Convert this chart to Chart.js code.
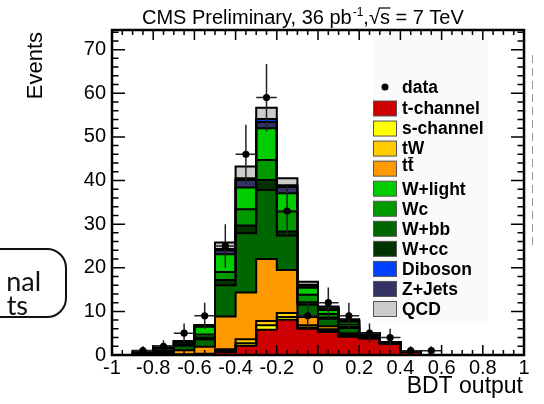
<!DOCTYPE html>
<html>
<head>
<meta charset="utf-8">
<script src="https://cdn.jsdelivr.net/npm/chart.js@4.4.1/dist/chart.umd.min.js"></script>
<style>
  html, body { margin: 0; padding: 0; background: #fff; }
  #wrap { position: relative; width: 544px; height: 404px; overflow: hidden; }
  #myChart { position: absolute; left: 0; top: 0; }
  .slidebox { position: absolute; left: -70px; top: 248px; width: 133px; height: 66px;
              border: 2.5px solid #111; border-radius: 20px; }
  .slidetxt { position: absolute; font-family: Lato, "Open Sans", sans-serif; font-size: 27px;
              color: #111; white-space: nowrap; line-height: 1; }
  .dash { position: absolute; left: 532px; top: 55px; width: 1px; height: 190px;
          background: repeating-linear-gradient(to bottom, #999 0 8px, transparent 8px 13px); }
</style>
</head>
<body>
<div id="wrap">
  <canvas id="myChart" width="544" height="404"></canvas>
  <div class="slidebox"></div>
  <div class="slidetxt" style="right:503px; top:267px;">nal</div>
  <div class="slidetxt" style="right:516px; top:291px;">ts</div>
  <div class="dash"></div>
</div>
<script>
// bin centres of the BDT output histogram (bin width 0.1)
const binCenters = [-0.95, -0.85, -0.75, -0.65, -0.55, -0.45, -0.35, -0.25, -0.15, -0.05,
                    0.05, 0.15, 0.25, 0.35, 0.45, 0.55, 0.65, 0.75, 0.85, 0.95];
const binWidth = 0.1;

// stacked MC samples (events per bin)
const tChannel = [0, 0, 0, 0, 0, 0.7, 2.1, 5.8, 8.1, 6.0, 5.3, 4.2, 3.8, 2.6, 0.8, 0, 0, 0, 0, 0];
const sChannel = [0, 0, 0, 0, 0, 0.2, 0.6, 1.0, 0.6, 0.3, 0.2, 0.1, 0.05, 0.05, 0, 0, 0, 0, 0, 0];
const tW       = [0, 0, 0, 0.2, 0.3, 0.4, 0.9, 1.0, 0.9, 0.5, 0.4, 0.3, 0.1, 0.05, 0, 0, 0, 0, 0, 0];
const ttbar    = [0, 0, 0.3, 0.9, 1.6, 7.5, 10.7, 14.2, 9.9, 1.9, 0.7, 0.4, 0.25, 0.1, 0, 0, 0, 0, 0, 0];
const wbb      = [0, 0.2, 0.4, 1.0, 1.7, 7.2, 13.6, 15.8, 7.9, 2.8, 1.7, 1.2, 0.4, 0.1, 0, 0, 0, 0, 0, 0];
const wcc      = [0, 0, 0.1, 0.3, 0.4, 1.2, 1.8, 2.3, 0.9, 0.6, 0.3, 0.2, 0.1, 0, 0, 0, 0, 0, 0, 0];
const wc       = [0, 0, 0.3, 0.4, 0.7, 1.8, 3.7, 4.6, 4.6, 1.7, 0.8, 0.6, 0.1, 0, 0, 0, 0, 0, 0, 0];
const wLight   = [0, 0.3, 0.5, 0.3, 1.8, 4.1, 5.0, 7.3, 4.2, 1.6, 0.9, 0.6, 0.15, 0.05, 0, 0, 0, 0, 0, 0];
const zJets    = [0, 0, 0, 0, 0.2, 0.9, 1.7, 1.4, 1.4, 0.5, 0.3, 0.2, 0.03, 0, 0, 0, 0, 0, 0, 0];
const diboson  = [0, 0, 0, 0, 0, 0.3, 0.4, 0.7, 0.4, 0.2, 0.1, 0.1, 0, 0, 0, 0, 0, 0, 0, 0];
const qcd      = [0, 0.5, 0.4, 0.1, 0.2, 1.5, 2.7, 2.6, 1.6, 0.7, 0.4, 0.3, 0, 0, 0, 0, 0, 0, 0, 0];

// observed data and its error bars
const dataCounts = [null, 1, 2, 5, 9, 25, 46, 59, 33, 9, 12, 9, 5, 4, 1, 1, null, null, null, null];
const dataErr    = [0, 1, 1.4, 2.2, 3, 5, 6.8, 7.7, 5.7, 3, 3.5, 3, 2.2, 2, 1, 1, 0, 0, 0, 0];

// axis tick labels
const xTickValues = [-1, -0.8, -0.6, -0.4, -0.2, 0, 0.2, 0.4, 0.6, 0.8, 1];
const yTickValues = [0, 10, 20, 30, 40, 50, 60, 70];

const FONT = '"Liberation Sans", Arial, Helvetica, sans-serif';

// stacking order, bottom to top
const stack = [
  { label: 't-channel', color: '#cc0000', values: tChannel },
  { label: 's-channel', color: '#ffff00', values: sChannel },
  { label: 'tW',        color: '#ffcc00', values: tW },
  { label: 'tt',        color: '#ff9900', values: ttbar },
  { label: 'W+bb',      color: '#006600', values: wbb },
  { label: 'W+cc',      color: '#003300', values: wcc },
  { label: 'Wc',        color: '#009900', values: wc },
  { label: 'W+light',   color: '#00cc00', values: wLight },
  { label: 'Z+Jets',    color: '#333366', values: zJets },
  { label: 'Diboson',   color: '#0040ff', values: diboson },
  { label: 'QCD',       color: '#cccccc', values: qcd }
];
const legendOrder = ['t-channel', 's-channel', 'tW', 'tt', 'W+light', 'Wc', 'W+bb', 'W+cc', 'Diboson', 'Z+Jets', 'QCD'];

const histPlugin = {
  id: 'hist',
  beforeDatasetsDraw(chart) {
    // faint legend background
    const ctx = chart.ctx;
    ctx.save();
    ctx.fillStyle = 'rgba(0,0,0,0.018)';
    ctx.fillRect(373, 31, 115, 292);
    ctx.restore();
  },
  beforeDatasetDraw(chart, args) {
    if (args.index !== 0) return;
    const ctx = chart.ctx;
    const x = chart.scales.x, y = chart.scales.y;
    const a = chart.chartArea;
    const half = binWidth / 2;
    ctx.save();
    ctx.beginPath();
    ctx.rect(a.left, a.top, a.right - a.left, a.bottom - a.top);
    ctx.clip();
    // step outlines of each stacked layer
    const cum = binCenters.map(() => 0);
    ctx.strokeStyle = '#000';
    ctx.lineWidth = 2;
    stack.forEach(s => {
      s.values.forEach((v, i) => { cum[i] += v; });
      ctx.beginPath();
      binCenters.forEach((c, i) => {
        const x0 = x.getPixelForValue(c - half);
        const x1 = x.getPixelForValue(c + half);
        const py = y.getPixelForValue(cum[i]);
        if (i === 0) ctx.moveTo(x0, py); else ctx.lineTo(x0, py);
        ctx.lineTo(x1, py);
      });
      ctx.stroke();
    });
    // data error bars
    ctx.strokeStyle = '#222';
    ctx.lineWidth = 1.5;
    dataCounts.forEach((n, i) => {
      if (n === null) return;
      const c = binCenters[i];
      const cx = x.getPixelForValue(c);
      const py = y.getPixelForValue(n);
      ctx.beginPath();
      ctx.moveTo(x.getPixelForValue(c - half), py);
      ctx.lineTo(x.getPixelForValue(c + half), py);
      ctx.moveTo(cx, y.getPixelForValue(n + dataErr[i]));
      ctx.lineTo(cx, y.getPixelForValue(Math.max(0, n - dataErr[i])));
      ctx.stroke();
    });
    ctx.restore();
  },
  afterDraw(chart) {
    const ctx = chart.ctx;
    const x = chart.scales.x, y = chart.scales.y;
    const a = chart.chartArea;
    ctx.save();
    // frame
    ctx.strokeStyle = '#000';
    ctx.lineWidth = 2.5;
    ctx.strokeRect(a.left, a.top, a.right - a.left, a.bottom - a.top);
    // ticks, pointing inwards on all four sides
    ctx.lineWidth = 1.5;
    ctx.beginPath();
    for (let i = 0; i <= 40; i++) {
      const px = x.getPixelForValue(-1 + i * 0.05);
      const len = i % 4 === 0 ? 10 : 5;
      ctx.moveTo(px, a.bottom); ctx.lineTo(px, a.bottom - len);
      ctx.moveTo(px, a.top); ctx.lineTo(px, a.top + len);
    }
    for (let v = 0; v <= y.max; v += 2) {
      const py = y.getPixelForValue(v);
      const len = v % 10 === 0 ? 13 : 6.5;
      ctx.moveTo(a.left, py); ctx.lineTo(a.left + len, py);
      ctx.moveTo(a.right, py); ctx.lineTo(a.right - len, py);
    }
    ctx.stroke();

    // title
    ctx.fillStyle = '#000';
    ctx.textBaseline = 'alphabetic';
    ctx.textAlign = 'left';
    ctx.font = '20px ' + FONT;
    let tx = 142;
    const ty = 24;
    const t1 = 'CMS Preliminary, 36 pb';
    ctx.fillText(t1, tx, ty);
    tx += ctx.measureText(t1).width;
    ctx.font = '12px ' + FONT;
    ctx.fillText('-1', tx + 1, ty - 8);
    tx += ctx.measureText('-1').width + 1;
    ctx.font = '20px ' + FONT;
    ctx.fillText(',', tx, ty);
    tx += ctx.measureText(',').width;
    ctx.fillText('\u221A', tx, ty);
    tx += ctx.measureText('\u221A').width;
    ctx.fillText('s', tx, ty);
    const sw = ctx.measureText('s').width;
    ctx.lineWidth = 1.2;
    ctx.beginPath();
    ctx.moveTo(tx - 1, ty - 16); ctx.lineTo(tx + sw + 0.5, ty - 16);
    ctx.stroke();
    tx += sw;
    ctx.fillText(' = 7 TeV', tx, ty);

    // axis titles
    ctx.font = '23px ' + FONT;
    ctx.textAlign = 'right';
    ctx.fillText('BDT output', 523, 393);
    ctx.save();
    ctx.translate(36, 32);
    ctx.rotate(-Math.PI / 2);
    ctx.textBaseline = 'middle';
    ctx.font = '22px ' + FONT;
    ctx.fillText('Events', 0, 0);
    ctx.restore();

    // legend
    ctx.textAlign = 'left';
    ctx.textBaseline = 'middle';
    ctx.font = 'bold 17.5px ' + FONT;
    ctx.beginPath();
    ctx.arc(385, 87, 3.5, 0, Math.PI * 2);
    ctx.fill();
    ctx.fillText('data', 402, 88);
    legendOrder.forEach((name, k) => {
      const s = stack.find(d => d.label === name);
      const by = 101 + k * 20.05;
      ctx.fillStyle = s.color;
      ctx.fillRect(373.5, by, 23, 15);
      ctx.strokeStyle = '#555';
      ctx.lineWidth = 1;
      ctx.strokeRect(373.5, by, 23, 15);
      ctx.fillStyle = '#000';
      if (name === 'tt') {
        ctx.fillText('tt', 402, by + 5);
        const w1 = ctx.measureText('t').width;
        ctx.lineWidth = 1.3;
        ctx.strokeStyle = '#000';
        ctx.beginPath();
        ctx.moveTo(402 + w1 + 0.5, by - 3.5);
        ctx.lineTo(402 + 2 * w1 - 0.5, by - 3.5);
        ctx.stroke();
      } else {
        ctx.fillText(name, 402, by + 8.5);
      }
    });
    ctx.restore();
  }
};

const datasets = [{
  type: 'line',
  label: 'data',
  data: binCenters.map((c, i) => ({ x: c, y: dataCounts[i] })).filter(p => p.y !== null),
  showLine: false,
  pointRadius: 3.6,
  pointHoverRadius: 3.6,
  pointBackgroundColor: '#000',
  pointBorderWidth: 0,
  stack: 'data'
}];
stack.forEach(s => {
  datasets.push({
    label: s.label,
    data: binCenters.map((c, i) => ({ x: c, y: s.values[i] })),
    backgroundColor: s.color,
    borderWidth: 0,
    barPercentage: 1,
    categoryPercentage: 1
  });
});

const ctx = document.getElementById('myChart').getContext('2d');
const myChart = new Chart(ctx, {
  type: 'bar',
  data: { datasets: datasets },
  options: {
    responsive: false,
    animation: false,
    layout: { padding: { top: 30, right: 20, left: 0, bottom: 0 } },
    plugins: {
      legend: { display: false },
      title: { display: false },
      tooltip: { enabled: false }
    },
    scales: {
      x: {
        type: 'linear',
        min: -1,
        max: 1,
        stacked: true,
        offset: false,
        grid: { display: false, drawTicks: false },
        border: { display: false },
        afterBuildTicks: s => { s.ticks = xTickValues.map(v => ({ value: v })); },
        afterFit: s => { s.height = 49; },
        ticks: {
          autoSkip: false,
          maxRotation: 0,
          padding: 1,
          color: '#000',
          font: { family: FONT, size: 20 },
          callback: v => String(Math.round(v * 10) / 10)
        }
      },
      y: {
        min: 0,
        max: 74.5,
        stacked: true,
        grid: { display: false, drawTicks: false },
        border: { display: false },
        afterBuildTicks: s => { s.ticks = yTickValues.map(v => ({ value: v })); },
        afterFit: s => { s.width = 112; },
        ticks: {
          padding: 6,
          color: '#000',
          font: { family: FONT, size: 20 }
        }
      }
    }
  },
  plugins: [histPlugin]
});
</script>
</body>
</html>
